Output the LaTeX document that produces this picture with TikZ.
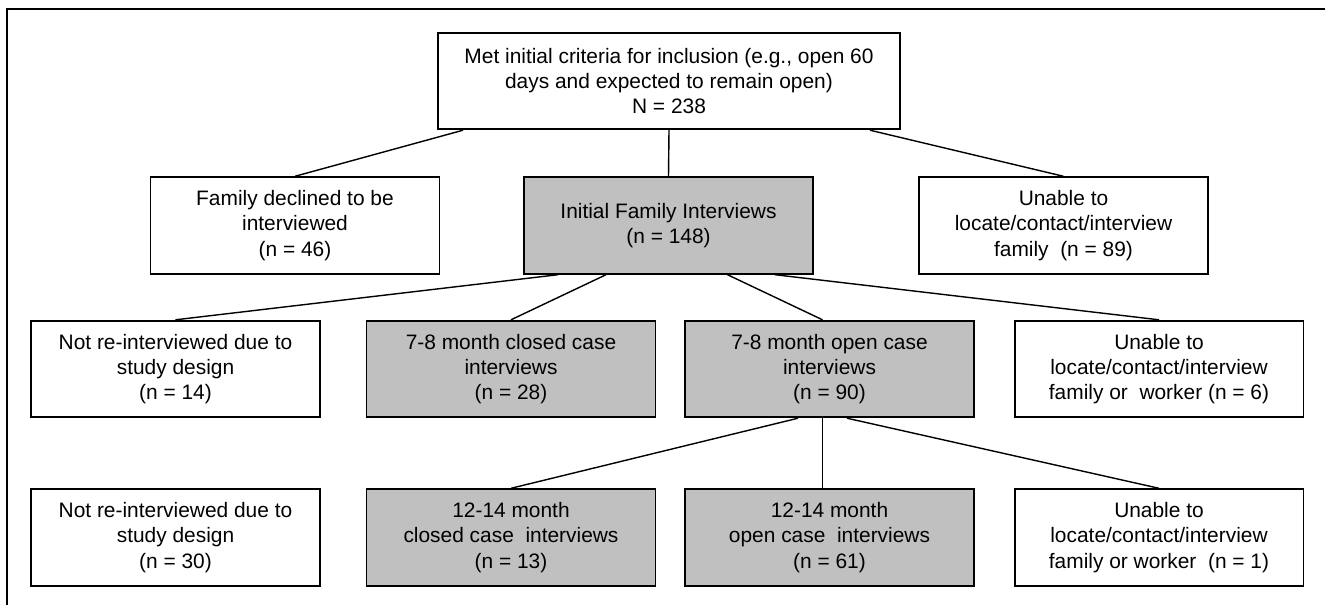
\documentclass[tikz,border=0pt]{standalone}
\usepackage{fontspec}
\setmainfont{Liberation Sans}
\usetikzlibrary{positioning}
\definecolor{boxgray}{HTML}{C0C0C0}

\begin{document}
\begin{tikzpicture}[
  x=0.02cm,y=-0.02cm,
  box/.style={draw, line width=1.1pt, align=center, minimum width=5.78cm, minimum height=1.93cm, inner sep=2pt, font=\fontsize{11.9}{14.3}\selectfont},
  shaded/.style={box, fill=boxgray},
  link/.style={line width=0.8pt}
]
\useasboundingbox (0,0) rectangle (1325,605);
\draw[line width=1.1pt] (6.7,610) -- (6.7,9) -- (1330,9);
% top
\node[box, minimum width=9.24cm] (met) at (669,81) {Met initial criteria for inclusion (e.g., open 60\\days and expected to remain open)\\N = 238};
% second row
\node[box] (declined) at (295,225.5) {Family declined to be\\interviewed\\(n = 46)};
\node[shaded] (initial) at (668.5,225.5) {Initial Family Interviews\\(n = 148)};
\node[box] (unable1) at (1063.5,225.5) {Unable to\\locate/contact/interview\\family\ \ (n = 89)};
% 7-8 month
\node[box] (notre1) at (175.5,369) {Not re-interviewed due to\\study design\\(n = 14)};
\node[shaded] (closed1) at (511,369) {7-8 month closed case\\interviews\\(n = 28)};
\node[shaded] (open1) at (829.5,369) {7-8 month open case\\interviews\\(n = 90)};
\node[box] (unable2) at (1159,369) {Unable to\\locate/contact/interview\\family or\ \ worker (n = 6)};
% 12-14 month
\node[box] (notre2) at (175.5,537.5) {Not re-interviewed due to\\study design\\(n = 30)};
\node[shaded] (closed2) at (511,537.5) {12-14 month\\closed case\ \ interviews\\(n = 13)};
\node[shaded] (open2) at (829.5,537.5) {12-14 month\\open case\ \ interviews\\(n = 61)};
\node[box] (unable3) at (1159,537.5) {Unable to\\locate/contact/interview\\family or worker\ \ (n = 1)};
% connectors
\draw[link] ([xshift=-4.12cm]met.south) -- (declined.north);
\draw[link] (met.south) -- (initial.north);
\draw[link] ([xshift=4.02cm]met.south) -- (unable1.north);
\draw[link] ([xshift=-2.21cm]initial.south) -- (notre1.north);
\draw[link] ([xshift=-1.25cm]initial.south) -- (closed1.north);
\draw[link] ([xshift=1.18cm]initial.south) -- ([xshift=-0.14cm]open1.north);
\draw[link] ([xshift=2.13cm]initial.south) -- (unable2.north);
\draw[link] ([xshift=-0.63cm]open1.south) -- (closed2.north);
\draw[link] ([xshift=-0.14cm]open1.south) -- ([xshift=-0.14cm]open2.north);
\draw[link] ([xshift=0.35cm]open1.south) -- (unable3.north);
\end{tikzpicture}
\end{document}
